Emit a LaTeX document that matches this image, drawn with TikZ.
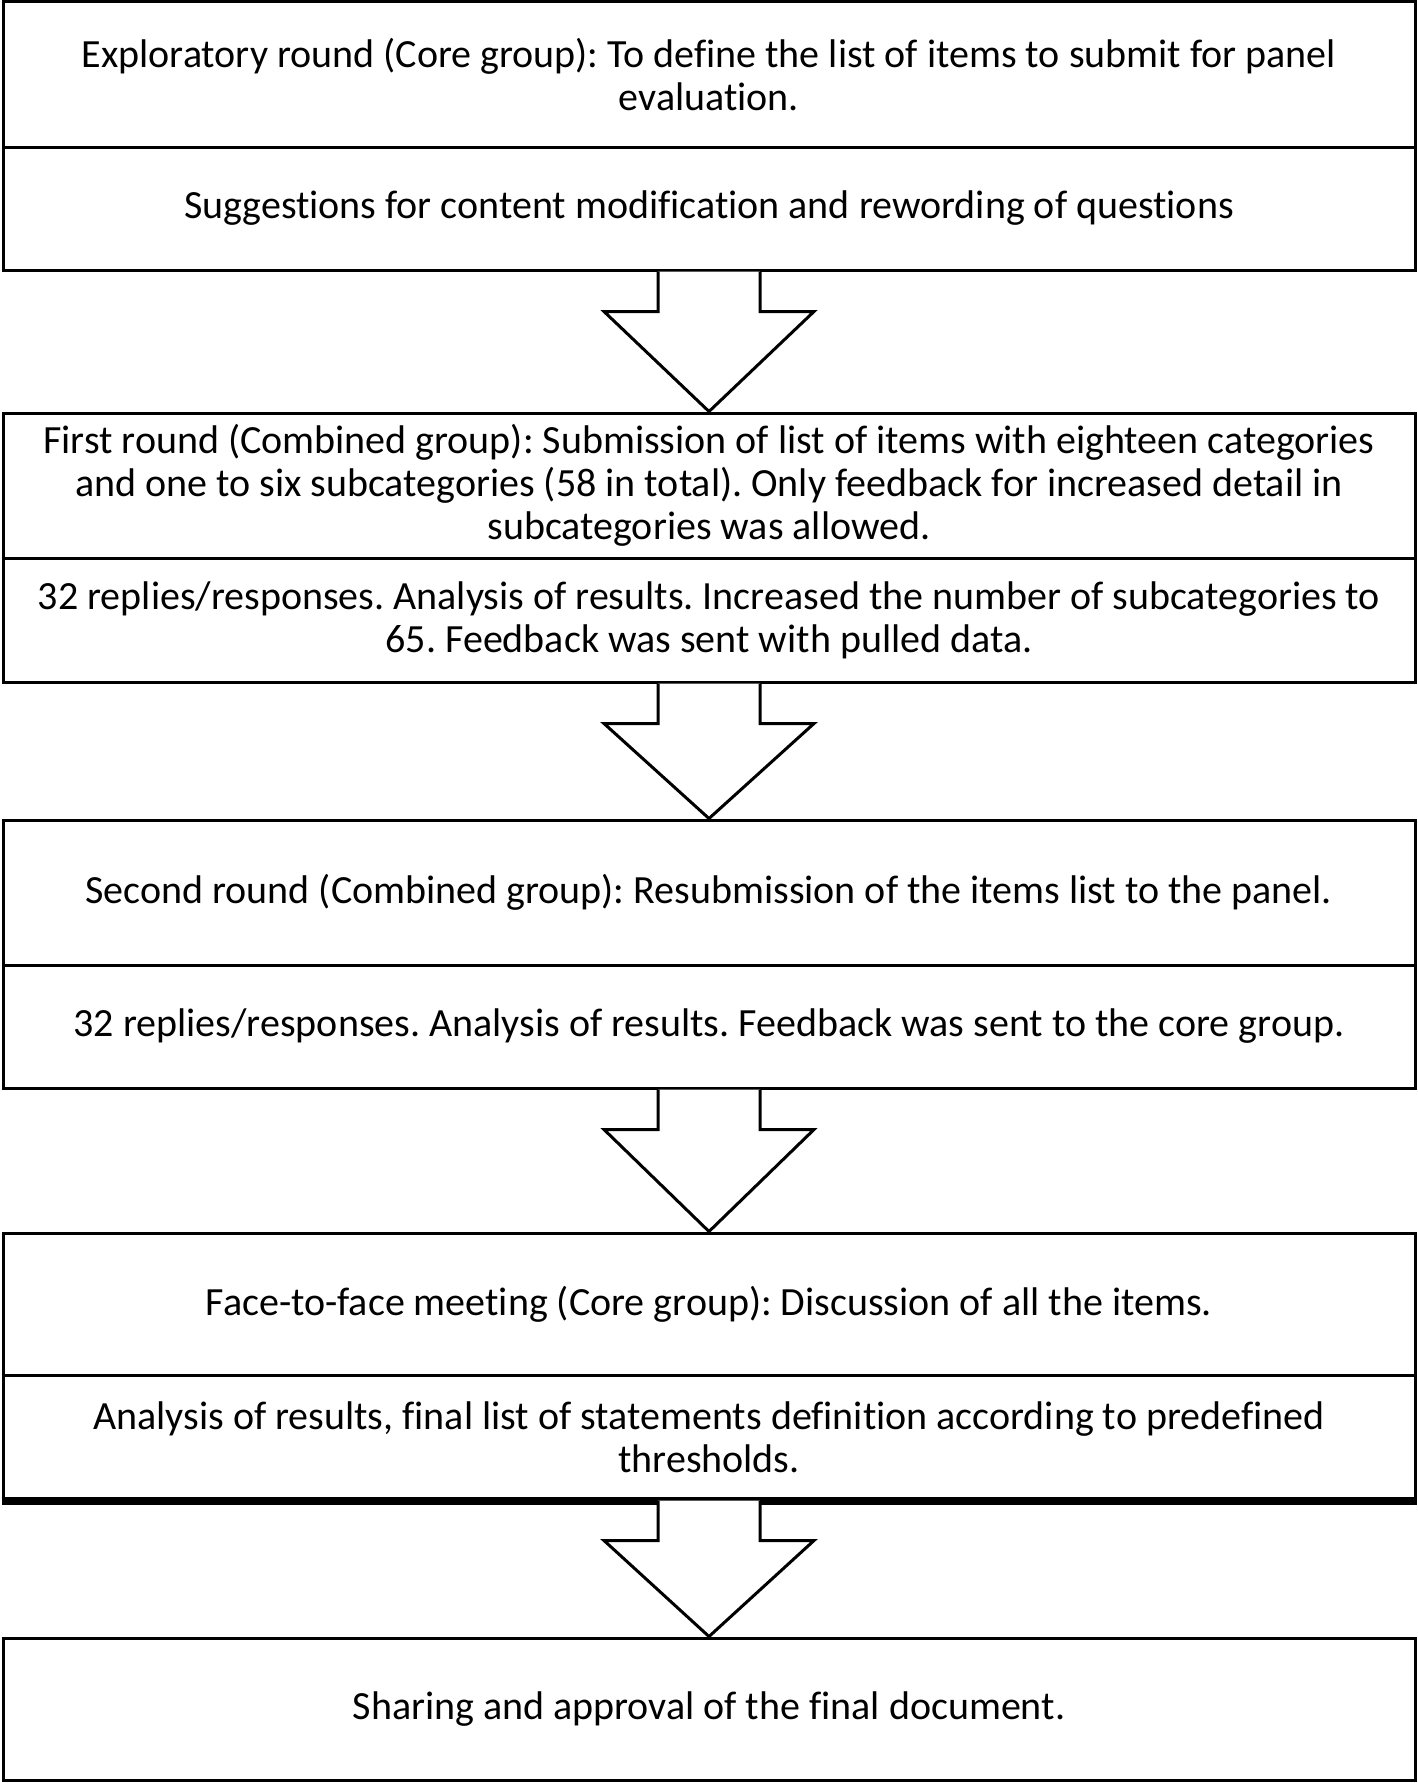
\documentclass[tikz,border=0pt]{standalone}
\usepackage{fontspec}
\setmainfont{Carlito}[Ligatures={NoCommon}]
\usetikzlibrary{calc}
\tikzset{
  cell/.style={draw, line width=1.5pt, minimum width=706pt, align=center, inner sep=0pt,
    font=\fontsize{20}{21.5}\selectfont},
  blockarrow/.style={draw, line width=1.5pt, fill=white}
}
\newcommand{\blockarr}[2]{%
  \draw[blockarrow] ($(#1)+(-51,0)$) -- ($(#1)+(-51,40)$) -- ($(#1)+(-105,40)$) -- (#2)
    -- ($(#1)+(105,40)$) -- ($(#1)+(51,40)$) -- ($(#1)+(51,0)$);}
\frenchspacing
\begin{document}
\begin{tikzpicture}[x=0.5pt,y=-0.5pt]
\useasboundingbox (0,0) rectangle (1418,1783);
\node[cell, minimum height=72.75pt] (c1a) at (709,74.25) {Exploratory round (Core group): To define the list of items to submit for panel\\evaluation.};
\node[cell, minimum height=61.5pt] (c1b) at (709,208.5) {Suggestions for content modification and rewording of questions};
\node[cell, minimum height=72.5pt] (c2a) at (709,485.5) {First round (Combined group): Submission of list of items with eighteen categories\\and one to six subcategories (58 in total). Only feedback for increased detail in\\subcategories was allowed.};
\node[cell, minimum height=62pt] (c2b) at (709,620) {32 replies/responses. Analysis of results. Increased the number of subcategories to\\65. Feedback was sent with pulled data.};
\node[cell, minimum height=72.5pt] (c3a) at (709,892.5) {Second round (Combined group): Resubmission of the items list to the panel.};
\node[cell, minimum height=61.5pt] (c3b) at (709,1026.5) {32 replies/responses. Analysis of results. Feedback was sent to the core group.};
\node[cell, minimum height=71pt] (c4a) at (709,1304) {Face-to-face meeting (Core group): Discussion of all the items.};
\node[cell, minimum height=62pt] (c4b) at (709,1437) {Analysis of results, final list of statements definition according to predefined\\thresholds.};
\node[cell, minimum height=71pt] (c5) at (709,1709) {Sharing and approval of the final document.};
\draw[line width=4pt] (c4b.south west) -- (c4b.south east);
\blockarr{c1b.south}{c2a.north}
\blockarr{c2b.south}{c3a.north}
\blockarr{c3b.south}{c4a.north}
\blockarr{c4b.south}{c5.north}
\end{tikzpicture}
\end{document}
